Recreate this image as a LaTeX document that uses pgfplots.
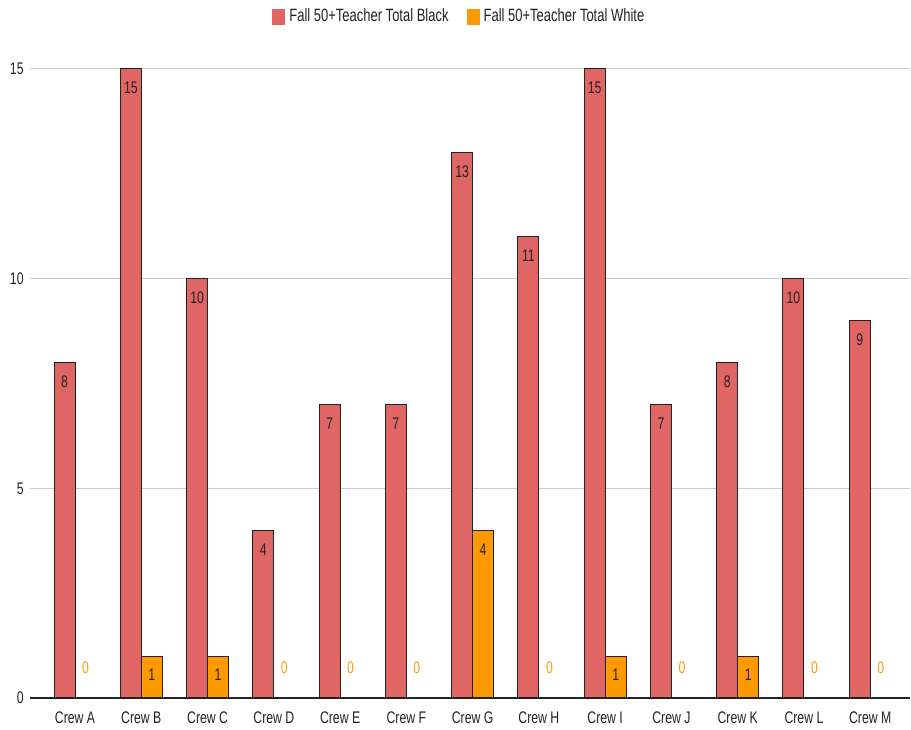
\documentclass[border=0pt]{standalone}
\usepackage{fontspec}
\setmainfont{Liberation Sans}[FakeStretch=0.73]
\usepackage{pgfplots}
\pgfplotsset{compat=1.18}
\definecolor{cblack}{HTML}{E06666}
\definecolor{cwhite}{HTML}{FF9900}
\definecolor{gridc}{HTML}{CCCCCC}
\definecolor{txt}{HTML}{222222}
\newcommand{\lblfont}{\fontsize{8.4}{10}\selectfont}
\newcommand{\legfont}{\fontsize{8.9}{10}\selectfont}
\begin{document}
\begin{tikzpicture}
\path[use as bounding box] (-15pt,-15.5pt) rectangle (440.5pt,349pt);
\begin{axis}[
  at={(0,0)}, anchor=south west,
  scale only axis, width=440pt, height=314.5pt,
  xmin=-0.68, xmax=12.6, ymin=0, ymax=15,
  ybar, bar width=10.5pt,
  clip=false,
  axis line style={draw=none},
  major tick length=0pt,
  xtick={0,1,2,3,4,5,6,7,8,9,10,11,12},
  xticklabels={Crew A,Crew B,Crew C,Crew D,Crew E,Crew F,Crew G,Crew H,Crew I,Crew J,Crew K,Crew L,Crew M},
  xticklabel style={font=\lblfont, text=txt, anchor=center, yshift=-10pt},
  ytick={0,5,10,15},
  yticklabel style={font=\lblfont, text=txt, anchor=east, inner sep=0pt, xshift=-3pt},
  ymajorgrids, grid style={gridc, line width=0.5pt},
  /pgf/number format/assume math mode=true,
  legend style={at={(0.489,1.083)}, anchor=center, legend columns=2, draw=none, fill=none,
    font=\legfont, text=txt,
    /tikz/every even column/.append style={column sep=7pt}},
  legend image code/.code={\fill[#1, draw=none] (0pt,-4pt) rectangle (6.5pt,4pt);},
]
\addplot[fill=cblack, draw=txt, line width=0.5pt, bar shift=-5.25pt,
  nodes near coords,
  every node near coord/.append style={anchor=center, yshift=-9.5pt, font=\lblfont, text=txt}]
  coordinates {(0,8)(1,15)(2,10)(3,4)(4,7)(5,7)(6,13)(7,11)(8,15)(9,7)(10,8)(11,10)(12,9)};
\addlegendentry{Fall 50+Teacher Total Black}
\addplot[fill=cwhite, draw=txt, line width=0.5pt, bar shift=5.25pt]
  coordinates {(0,0)(1,1)(2,1)(3,0)(4,0)(5,0)(6,4)(7,0)(8,1)(9,0)(10,1)(11,0)(12,0)};
\addlegendentry{Fall 50+Teacher Total White}
\addplot[forget plot, draw=none, fill=none, bar shift=5.25pt,
  nodes near coords,
  every node near coord/.append style={anchor=center, yshift=-9.5pt, font=\lblfont, text=txt}]
  coordinates {(1,1)(2,1)(6,4)(8,1)(10,1)};
\addplot[forget plot, draw=none, fill=none, bar shift=5.25pt,
  nodes near coords,
  every node near coord/.append style={anchor=center, yshift=15pt, font=\lblfont, text=cwhite}]
  coordinates {(0,0)(3,0)(4,0)(5,0)(7,0)(9,0)(11,0)(12,0)};
\draw[txt, line width=0.6pt] (rel axis cs:0,0) -- (rel axis cs:1,0);
\end{axis}
\end{tikzpicture}
\end{document}
